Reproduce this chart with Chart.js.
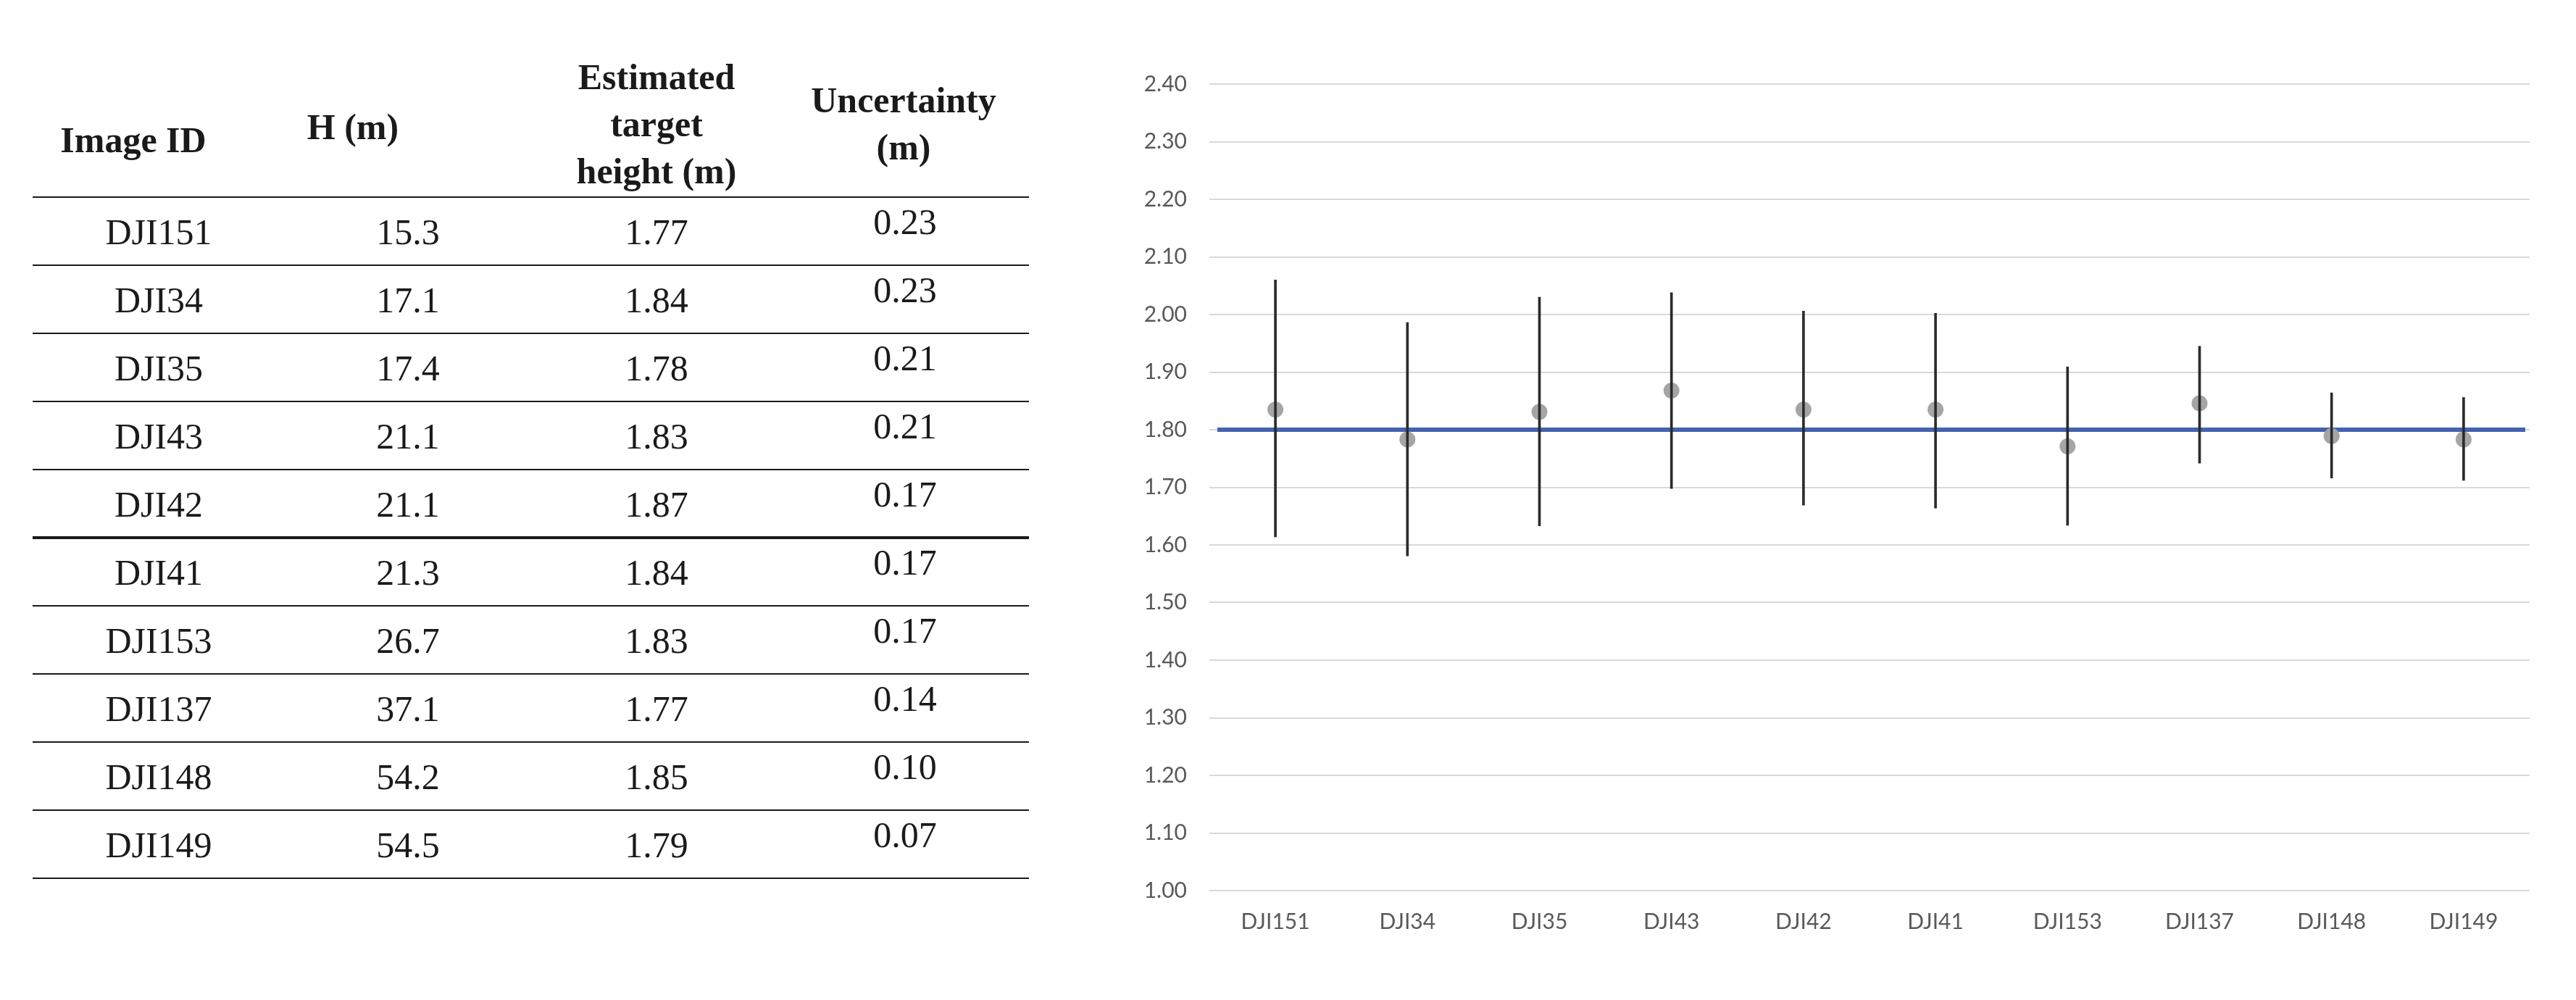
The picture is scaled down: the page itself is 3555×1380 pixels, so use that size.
<!DOCTYPE html>
<html>
<head>
<meta charset="utf-8">
<script src="https://cdn.jsdelivr.net/npm/chart.js@4.4.0/dist/chart.umd.min.js"></script>
<style>
  html, body { margin: 0; padding: 0; background: #fff; }
  #page { position: relative; width: 3555px; height: 1380px; overflow: hidden; background: #fff; }
  .cell { position: absolute; width: 400px; text-align: center; font-family: "Liberation Serif", serif;
          font-size: 50px; line-height: 60px; color: #1a1a1a; white-space: nowrap; }
  .head { font-weight: bold; line-height: 65px; }
  .rule { position: absolute; left: 45px; width: 1375px; background: #1a1a1a; }
  #chartBox { position: absolute; left: 1560px; top: 0; width: 1995px; height: 1380px; }
</style>
</head>
<body>
<div id="page">
  <div id="tableBox"></div>
  <div id="chartBox"><canvas id="errChart" width="1995" height="1380"></canvas></div>
</div>
<script>
// table values
const tableIds = ['DJI151', 'DJI34', 'DJI35', 'DJI43', 'DJI42', 'DJI41', 'DJI153', 'DJI137', 'DJI148', 'DJI149'];
const altitudes = ['15.3', '17.1', '17.4', '21.1', '21.1', '21.3', '26.7', '37.1', '54.2', '54.5'];
const estimatedHeights = ['1.77', '1.84', '1.78', '1.83', '1.87', '1.84', '1.83', '1.77', '1.85', '1.79'];
const uncertainties = ['0.23', '0.23', '0.21', '0.21', '0.17', '0.17', '0.17', '0.14', '0.10', '0.07'];

// chart values
const categories = ['DJI151', 'DJI34', 'DJI35', 'DJI43', 'DJI42', 'DJI41', 'DJI153', 'DJI137', 'DJI148', 'DJI149'];
const pointHeights = [1.835, 1.783, 1.831, 1.868, 1.835, 1.835, 1.771, 1.846, 1.789, 1.783];
const errLow = [1.614, 1.581, 1.633, 1.698, 1.669, 1.664, 1.634, 1.742, 1.716, 1.712];
const errHigh = [2.060, 1.986, 2.030, 2.038, 2.006, 2.002, 1.909, 1.945, 1.864, 1.856];
const referenceHeight = 1.80;
const yTicks = { min: 1.0, max: 2.4, step: 0.1 };

// ---- table ----
const box = document.getElementById('tableBox');
const colCenters = [219, 563, 906, 1249];
const firstRule = 272, rowH = 94;

const addText = (html, cx, top, cls) => {
  const d = document.createElement('div');
  d.className = cls;
  d.style.left = (cx - 200) + 'px';
  d.style.top = top + 'px';
  d.innerHTML = html;
  box.appendChild(d);
};

addText('Image ID', 184, 161, 'cell head');
addText('H (m)', 487, 143, 'cell head');
addText('Estimated<br>target<br>height (m)', 906, 74, 'cell head');
addText('Uncertainty<br>(m)', 1247, 106, 'cell head');

for (let i = 0; i <= tableIds.length; i++) {
  const r = document.createElement('div');
  r.className = 'rule';
  const thick = (i === 5) ? 4 : 2.5;
  r.style.top = (firstRule + rowH * i - thick / 2) + 'px';
  r.style.height = thick + 'px';
  box.appendChild(r);
}

tableIds.forEach((id, i) => {
  const y = firstRule + rowH * i;
  addText(id, colCenters[0], y + 18, 'cell');
  addText(altitudes[i], colCenters[1], y + 18, 'cell');
  addText(estimatedHeights[i], colCenters[2], y + 18, 'cell');
  addText(uncertainties[i], colCenters[3], y + 4, 'cell');
});

// ---- chart ----
const refLine = {
  id: 'refLine',
  beforeDatasetsDraw(chart) {
    const { ctx, chartArea, scales } = chart;
    const py = scales.y.getPixelForValue(referenceHeight);
    ctx.save();
    ctx.strokeStyle = '#4462b0';
    ctx.lineWidth = 6;
    ctx.beginPath();
    ctx.moveTo(chartArea.left + 11, py);
    ctx.lineTo(chartArea.right - 6, py);
    ctx.stroke();
    ctx.restore();
  }
};

const ctx = document.getElementById('errChart').getContext('2d');
new Chart(ctx, {
  type: 'bar',
  data: {
    labels: categories,
    datasets: [
      {
        label: 'Uncertainty',
        data: errLow.map((lo, i) => [lo, errHigh[i]]),
        backgroundColor: '#2b2b2b',
        borderWidth: 0,
        barThickness: 3,
        order: 0,
      },
      {
        type: 'line',
        label: 'Estimated height',
        data: pointHeights,
        showLine: false,
        pointStyle: 'circle',
        pointRadius: 11,
        pointBackgroundColor: '#a5a5a5',
        pointBorderWidth: 0,
        order: 1,
      },
    ],
  },
  options: {
    responsive: false,
    devicePixelRatio: 1,
    animation: false,
    layout: { padding: { top: 116, right: 64, bottom: 0, left: 0 } },
    plugins: {
      legend: { display: false },
      tooltip: { enabled: false },
    },
    scales: {
      x: {
        grid: { display: false, drawTicks: false },
        border: { display: false },
        ticks: {
          padding: 25,
          color: '#595959',
          font: { family: 'Lato', size: 30 },
          maxRotation: 0,
          autoSkip: false,
        },
        afterFit: (s) => { s.height = 151; },
      },
      y: {
        min: yTicks.min,
        max: yTicks.max,
        grid: { color: '#d9d9d9', lineWidth: 2, drawTicks: false },
        border: { display: false },
        ticks: {
          stepSize: yTicks.step,
          padding: 31,
          color: '#595959',
          font: { family: 'Lato', size: 30 },
          callback: (v) => v.toFixed(2),
        },
        afterFit: (s) => { s.width = 109; },
      },
    },
  },
  plugins: [refLine],
});
</script>
</body>
</html>
